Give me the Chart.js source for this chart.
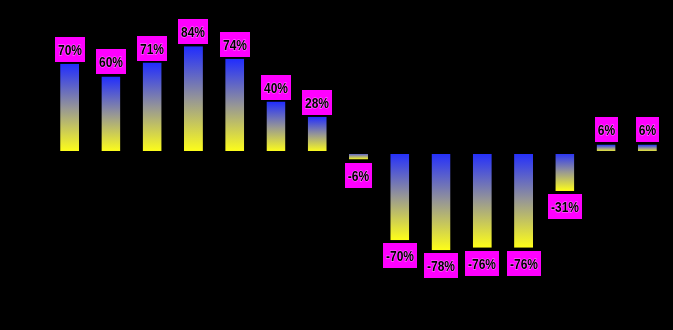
<!DOCTYPE html>
<html>
<head>
<meta charset="utf-8">
<script src="https://cdn.jsdelivr.net/npm/chart.js@4/dist/chart.umd.min.js"></script>
<style>
  html, body { margin: 0; padding: 0; background: #000; }
  #wrap { width: 673px; height: 330px; }
</style>
</head>
<body>
<div id="wrap"><canvas id="barChart"></canvas></div>
<script>
// change per period, in percent
const periods = ['P1', 'P2', 'P3', 'P4', 'P5', 'P6', 'P7', 'P8', 'P9', 'P10', 'P11', 'P12', 'P13', 'P14', 'P15'];
const changes = [70, 60, 71, 84, 74, 40, 28, -6, -70, -78, -76, -76, -31, 6, 6];
const valueLabels = ['70%', '60%', '71%', '84%', '74%', '40%', '28%', '-6%', '-70%', '-78%', '-76%', '-76%', '-31%', '6%', '6%'];

const BLUE = 'rgb(32, 44, 255)';
const YELLOW = 'rgb(255, 255, 24)';

// each bar fades blue -> yellow from its top edge to its bottom edge
function barGradient(context) {
  const chart = context.chart;
  const y = chart.scales.y;
  if (!chart.chartArea || !y) return YELLOW;
  const v = changes[context.dataIndex];
  const p0 = y.getPixelForValue(0);
  const p1 = y.getPixelForValue(v);
  const top = Math.min(p0, p1), bottom = Math.max(p0, p1);
  const g = chart.ctx.createLinearGradient(0, top, 0, bottom + 0.01);
  g.addColorStop(0, BLUE);
  g.addColorStop(0.5, 'rgb(150, 150, 150)');
  g.addColorStop(1, YELLOW);
  return g;
}

// magenta value tags above positive bars, below negative ones
const SQUEEZE = 0.8; // narrow the label glyphs
const valueTags = {
  id: 'valueTags',
  afterDatasetsDraw(chart) {
    const ctx = chart.ctx;
    const meta = chart.getDatasetMeta(0);
    ctx.save();
    ctx.font = 'bold 15px "Liberation Sans", Arial, sans-serif';
    ctx.textAlign = 'center';
    ctx.textBaseline = 'middle';
    meta.data.forEach((bar, i) => {
      const text = valueLabels[i];
      const w = Math.round(ctx.measureText(text).width * SQUEEZE + 6);
      const h = 25;
      const top = Math.round(changes[i] >= 0 ? bar.y - 2 - h : bar.y + 3);
      const left = Math.round(bar.x - w / 2);
      ctx.fillStyle = '#ff00ff';
      ctx.fillRect(left, top, w, h);
      ctx.save();
      ctx.translate(left + w / 2, top + h / 2 + 1);
      ctx.scale(SQUEEZE, 1);
      ctx.lineWidth = 1;
      ctx.strokeStyle = 'rgba(255, 255, 255, 0.5)';
      ctx.strokeText(text, 0, 0);
      ctx.fillStyle = '#000';
      ctx.fillText(text, 0, 0);
      ctx.restore();
    });
    ctx.restore();
  }
};

new Chart(document.getElementById('barChart'), {
  type: 'bar',
  data: {
    labels: periods,
    datasets: [{
      data: changes,
      backgroundColor: barGradient,
      borderColor: '#000',
      borderSkipped: false,
      borderWidth: (c) => changes[c.dataIndex] >= 0
        ? { top: 0, left: 0, right: 0, bottom: 1 }
        : { top: 2, left: 0, right: 0, bottom: 0 },
      barPercentage: 0.46,
      categoryPercentage: 1
    }]
  },
  options: {
    responsive: true,
    maintainAspectRatio: false,
    animation: false,
    layout: { padding: { left: 49, right: 5, top: 26, bottom: 52 } },
    plugins: {
      legend: { display: false },
      tooltip: { enabled: false }
    },
    scales: {
      x: { display: false },
      y: { display: false, min: -100, max: 100 }
    }
  },
  plugins: [valueTags]
});
</script>
</body>
</html>
